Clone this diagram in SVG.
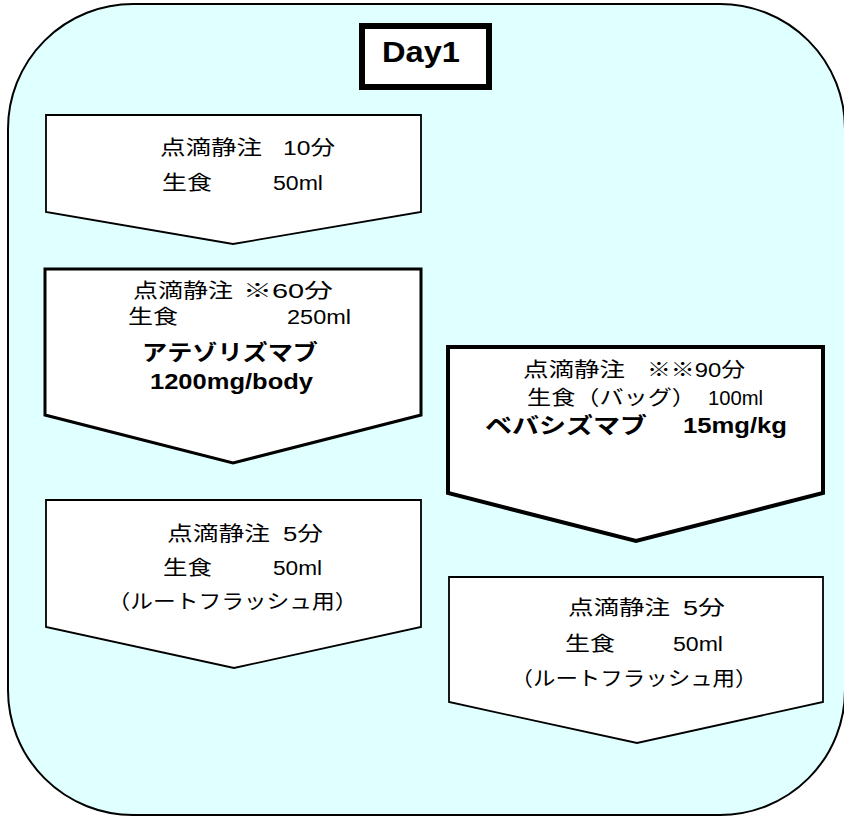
<svg xmlns="http://www.w3.org/2000/svg" width="844" height="816" viewBox="0 0 844 816">
<style>
.bg{fill:#e0ffff;stroke:#000;stroke-width:2}
.box{fill:#fff;stroke:#000;stroke-linejoin:miter}
.t{font-family:"Liberation Sans","Noto Sans CJK JP",sans-serif;font-size:20px;fill:#000}
.b{font-family:"Liberation Sans","Noto Sans CJK JP",sans-serif;font-size:22px;font-weight:bold;fill:#000}
</style>
<rect width="844" height="816" fill="#fff"/>
<g id="frame">
<rect class="bg" x="8" y="4" width="837" height="811" rx="125" ry="125"/>
</g>
<g id="day1">
<rect x="362" y="26" width="127" height="61" fill="#fff" stroke="#000" stroke-width="6"/>
<text x="382" y="62" textLength="78" lengthAdjust="spacingAndGlyphs" style="font-family:'Liberation Sans',sans-serif;font-size:29px;font-weight:bold">Day1</text>
</g>
<g id="step1">
<polygon class="box" stroke-width="1.8" points="46,115 421,115 421,212 233,244 46,212"/>
<text class="t" x="160" y="155" textLength="102" lengthAdjust="spacingAndGlyphs">点滴静注</text>
<text class="t" x="283" y="155" textLength="52" lengthAdjust="spacingAndGlyphs">10分</text>
<text class="t" x="162" y="190" textLength="50" lengthAdjust="spacingAndGlyphs">生食</text>
<text class="t" x="273" y="190" textLength="50" lengthAdjust="spacingAndGlyphs">50ml</text>
</g>
<g id="step2">
<polygon class="box" stroke-width="3" points="45,269 421,269 421,415 233,463 45,415"/>
<text class="t" x="133" y="298" textLength="100" lengthAdjust="spacingAndGlyphs">点滴静注</text>
<text class="t" x="243" y="298" textLength="90" lengthAdjust="spacingAndGlyphs">※60分</text>
<text class="t" x="128" y="324" textLength="50" lengthAdjust="spacingAndGlyphs">生食</text>
<text class="t" x="287" y="324" textLength="64" lengthAdjust="spacingAndGlyphs">250ml</text>
<text class="b" x="142" y="360" textLength="176" lengthAdjust="spacingAndGlyphs">アテゾリズマブ</text>
<text class="b" x="150" y="389" textLength="163" lengthAdjust="spacingAndGlyphs">1200mg/body</text>
</g>
<g id="step3">
<polygon class="box" stroke-width="4" points="448,347 823,347 823,493 636,541 448,493"/>
<text class="t" x="523" y="377" textLength="102" lengthAdjust="spacingAndGlyphs">点滴静注</text>
<text class="t" x="647" y="377" textLength="98" lengthAdjust="spacingAndGlyphs">※※90分</text>
<text class="t" x="527" y="405" textLength="169" lengthAdjust="spacingAndGlyphs">生食（バッグ）</text>
<text class="t" x="708" y="405" textLength="55" lengthAdjust="spacingAndGlyphs">100ml</text>
<text class="b" x="485" y="433" textLength="162" lengthAdjust="spacingAndGlyphs">ベバシズマブ</text>
<text class="b" x="683" y="433" textLength="104" lengthAdjust="spacingAndGlyphs">15mg/kg</text>
</g>
<g id="step4">
<polygon class="box" stroke-width="1.8" points="46,500 421,500 421,627 234,668 46,627"/>
<text class="t" x="167" y="541" textLength="103" lengthAdjust="spacingAndGlyphs">点滴静注</text>
<text class="t" x="283" y="541" textLength="40" lengthAdjust="spacingAndGlyphs">5分</text>
<text class="t" x="163" y="575" textLength="49" lengthAdjust="spacingAndGlyphs">生食</text>
<text class="t" x="273" y="575" textLength="49" lengthAdjust="spacingAndGlyphs">50ml</text>
<text class="t" x="107.5" y="609" textLength="250" lengthAdjust="spacingAndGlyphs">（ルートフラッシュ用）</text>
</g>
<g id="step5">
<polygon class="box" stroke-width="1.8" points="449,577 823,577 823,702 637,743 449,702"/>
<text class="t" x="568" y="615" textLength="102" lengthAdjust="spacingAndGlyphs">点滴静注</text>
<text class="t" x="683" y="615" textLength="42" lengthAdjust="spacingAndGlyphs">5分</text>
<text class="t" x="565" y="651" textLength="50" lengthAdjust="spacingAndGlyphs">生食</text>
<text class="t" x="673" y="651" textLength="50" lengthAdjust="spacingAndGlyphs">50ml</text>
<text class="t" x="510.5" y="686" textLength="247" lengthAdjust="spacingAndGlyphs">（ルートフラッシュ用）</text>
</g>
</svg>
